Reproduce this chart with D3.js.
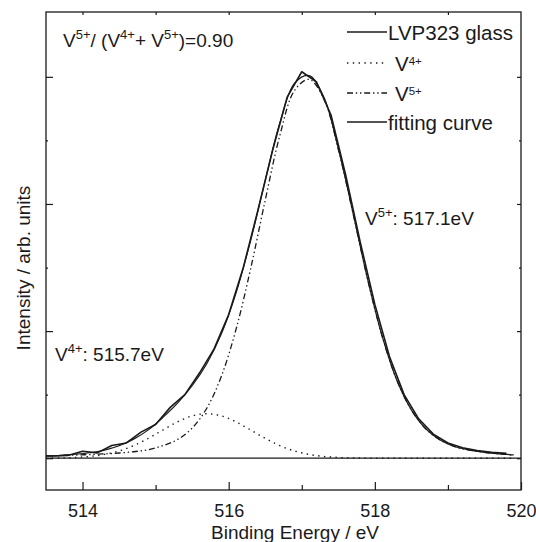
<!DOCTYPE html>
<html>
<head>
<meta charset="utf-8">
<script src="https://cdn.jsdelivr.net/npm/d3@7"></script>
<style>
  html, body { margin: 0; padding: 0; background: #fff; }
  svg { display: block; }
  text { font-family: "Liberation Sans", Arial, Helvetica, sans-serif; fill: #1a1a1a; }
</style>
</head>
<body>
<script>
// ---- data ----
// measured spectrum
const dataEnergy = [513.5, 513.6, 513.8, 514.0, 514.2, 514.4, 514.6, 514.8, 515.0, 515.2, 515.4,
  515.6, 515.8, 516.0, 516.2, 516.4, 516.6, 516.8, 517.0, 517.2, 517.4, 517.6,
  517.8, 518.0, 518.2, 518.4, 518.6, 518.8, 519.0, 519.2, 519.4, 519.6, 519.8];
const glass = [0.020, 0.018, 0.022, 0.055, 0.042, 0.100, 0.120, 0.205, 0.265, 0.400, 0.500,
  0.670, 0.860, 1.130, 1.500, 1.950, 2.420, 2.840, 3.040, 2.960, 2.700, 2.230,
  1.700, 1.210, 0.800, 0.500, 0.310, 0.190, 0.120, 0.082, 0.060, 0.046, 0.038];
// fitted components
const fitEnergy = [513.5, 513.7, 513.9, 514.1, 514.3, 514.5, 514.7, 514.9, 515.1, 515.3, 515.5,
  515.7, 515.9, 516.1, 516.3, 516.5, 516.7, 516.9, 517.1, 517.3, 517.5, 517.7,
  517.9, 518.1, 518.3, 518.5, 518.7, 518.9, 519.1, 519.3, 519.5, 519.7, 519.9];
const v4 = [0.001, 0.002, 0.006, 0.014, 0.030, 0.057, 0.099, 0.156, 0.222, 0.286, 0.333,
  0.350, 0.333, 0.286, 0.222, 0.156, 0.099, 0.057, 0.030, 0.014, 0.006, 0.002,
  0.001, 0, 0, 0, 0, 0, 0, 0, 0, 0, 0];
const v5 = [0.018, 0.021, 0.025, 0.029, 0.034, 0.041, 0.051, 0.067, 0.099, 0.147, 0.237,
  0.393, 0.645, 1.013, 1.490, 2.030, 2.539, 2.892, 2.980, 2.830, 2.430, 1.930,
  1.410, 0.960, 0.615, 0.380, 0.230, 0.142, 0.090, 0.063, 0.046, 0.034, 0.026];
const fit = [0.019, 0.023, 0.031, 0.043, 0.064, 0.098, 0.150, 0.223, 0.321, 0.433, 0.570,
  0.743, 0.978, 1.299, 1.712, 2.186, 2.638, 2.949, 3.010, 2.844, 2.436, 1.932,
  1.411, 0.960, 0.615, 0.380, 0.230, 0.142, 0.090, 0.063, 0.046, 0.034, 0.026];
const xMajorTicks = [514, 516, 518, 520];
const xMinorTicks = [515, 517, 519];
const xTopTicks = [514, 515, 516, 517, 518, 519];
const yMajorTicks = [0, 1, 2, 3];
const yMinorTicks = [0.5, 1.5, 2.5];
const legendLabels = ["LVP323 glass", "V", "V", "fitting curve"];

// ---- layout ----
const W = 536, H = 542;
const L = 46, R = 521, T = 12, B = 490;
const ink = "#1a1a1a";
const FONT = 19;
const LEGFONT = 20.5;

const svg = d3.select("body").append("svg").attr("width", W).attr("height", H);

const x = d3.scaleLinear().domain([513.5, 520]).range([L, R]);
const y = d3.scaleLinear().domain([-0.25, 3.51]).range([B, T]);

function styleAxis(g) {
  g.select(".domain").remove();
  g.selectAll(".tick line").attr("stroke", ink).attr("stroke-width", 1.2);
  g.selectAll(".tick text").attr("font-size", 18).attr("fill", ink)
    .attr("font-family", '"Liberation Sans", Arial, sans-serif');
}

// bottom axis
svg.append("g").attr("transform", `translate(0,${B})`)
  .call(d3.axisBottom(x).tickValues(xMajorTicks).tickSizeInner(-8).tickSizeOuter(0)
    .tickPadding(14).tickFormat(d3.format("d")))
  .call(styleAxis);
svg.append("g").attr("transform", `translate(0,${B})`)
  .call(d3.axisBottom(x).tickValues(xMinorTicks).tickSizeInner(-5).tickSizeOuter(0).tickFormat(""))
  .call(styleAxis);
// top axis
svg.append("g").attr("transform", `translate(0,${T})`)
  .call(d3.axisTop(x).tickValues(xTopTicks).tickSizeInner(-3).tickSizeOuter(0).tickFormat(""))
  .call(styleAxis);
// left axis
svg.append("g").attr("transform", `translate(${L},0)`)
  .call(d3.axisLeft(y).tickValues(yMajorTicks).tickSizeInner(-7).tickSizeOuter(0).tickFormat(""))
  .call(styleAxis);
svg.append("g").attr("transform", `translate(${L},0)`)
  .call(d3.axisLeft(y).tickValues(yMinorTicks).tickSizeInner(-2).tickSizeOuter(0).tickFormat(""))
  .call(styleAxis);
// right axis
svg.append("g").attr("transform", `translate(${R},0)`)
  .call(d3.axisRight(y).tickValues(yMajorTicks).tickSizeInner(-4).tickSizeOuter(0).tickFormat(""))
  .call(styleAxis);
svg.append("g").attr("transform", `translate(${R},0)`)
  .call(d3.axisRight(y).tickValues(yMinorTicks).tickSizeInner(-2).tickSizeOuter(0).tickFormat(""))
  .call(styleAxis);

// frame
svg.append("rect").attr("x", L).attr("y", T).attr("width", R - L).attr("height", B - T)
  .attr("fill", "none").attr("stroke", ink).attr("stroke-width", 1.3);

// zero baseline
svg.append("line").attr("x1", x(513.5)).attr("x2", x(520)).attr("y1", y(0)).attr("y2", y(0))
  .attr("stroke", ink).attr("stroke-width", 1.3);

// ---- series ----
const pts = (es, arr) => es.map((e, i) => [e, arr[i]]);
const lineLin = d3.line().x(d => x(d[0])).y(d => y(d[1]));
const lineSmooth = d3.line().x(d => x(d[0])).y(d => y(d[1])).curve(d3.curveCatmullRom.alpha(0.5));

const DOT = "1.4,4.4";
const DASHDOT = "6,2.8,1.4,2.8,1.4,2.8";

svg.append("path").attr("d", lineSmooth(pts(fitEnergy, v4))).attr("fill", "none")
  .attr("stroke", ink).attr("stroke-width", 1.4).attr("stroke-dasharray", DOT);
svg.append("path").attr("d", lineSmooth(pts(fitEnergy, v5))).attr("fill", "none")
  .attr("stroke", ink).attr("stroke-width", 1.3).attr("stroke-dasharray", DASHDOT);
svg.append("path").attr("d", lineSmooth(pts(fitEnergy, fit))).attr("fill", "none")
  .attr("stroke", ink).attr("stroke-width", 1.2);
svg.append("path").attr("d", lineLin(pts(dataEnergy, glass))).attr("fill", "none")
  .attr("stroke", ink).attr("stroke-width", 1.6).attr("stroke-linejoin", "round");

// ---- legend ----
const legY = [32, 63, 93, 122];
const legStyles = [
  { dash: null, w: 1.6 },
  { dash: DOT, w: 1.4 },
  { dash: DASHDOT, w: 1.3 },
  { dash: null, w: 1.3 }
];
legStyles.forEach((s, i) => {
  const ln = svg.append("line").attr("x1", 347).attr("x2", 387)
    .attr("y1", legY[i]).attr("y2", legY[i])
    .attr("stroke", ink).attr("stroke-width", s.w);
  if (s.dash) ln.attr("stroke-dasharray", s.dash);
});
svg.append("text").attr("x", 388).attr("y", legY[0] + 8).attr("font-size", LEGFONT).text(legendLabels[0]);
const l4 = svg.append("text").attr("x", 395).attr("y", legY[1] + 8).attr("font-size", LEGFONT);
l4.append("tspan").text(legendLabels[1]);
l4.append("tspan").attr("dy", -6).attr("font-size", 11.5).text("4+");
const l5 = svg.append("text").attr("x", 395).attr("y", legY[2] + 8).attr("font-size", LEGFONT);
l5.append("tspan").text(legendLabels[2]);
l5.append("tspan").attr("dy", -6).attr("font-size", 11.5).text("5+");
svg.append("text").attr("x", 388).attr("y", legY[3] + 8).attr("font-size", LEGFONT).text(legendLabels[3]);

// ---- annotations ----
function supText(xp, yp, parts) {
  const t = svg.append("text").attr("x", xp).attr("y", yp).attr("font-size", FONT);
  let raised = false;
  parts.forEach(p => {
    const sp = t.append("tspan").text(p.t);
    if (p.sup && !raised) { sp.attr("dy", -8).attr("font-size", 13); raised = true; }
    else if (!p.sup && raised) { sp.attr("dy", 8); raised = false; }
  });
  return t;
}
supText(63, 47, [{ t: "V" }, { t: "5+", sup: true }, { t: "/ (V" }, { t: "4+", sup: true },
  { t: "+ V" }, { t: "5+", sup: true }, { t: ")=0.90" }]);
supText(365, 225, [{ t: "V" }, { t: "5+", sup: true }, { t: ": 517.1eV" }]);
supText(55, 361, [{ t: "V" }, { t: "4+", sup: true }, { t: ": 515.7eV" }]);

// ---- axis titles ----
svg.append("text").attr("x", 295).attr("y", 539).attr("text-anchor", "middle")
  .attr("font-size", FONT).text("Binding Energy / eV");
svg.append("text").attr("transform", "translate(30,268) rotate(-90)").attr("text-anchor", "middle")
  .attr("font-size", FONT).text("Intensity / arb. units");
</script>
</body>
</html>
